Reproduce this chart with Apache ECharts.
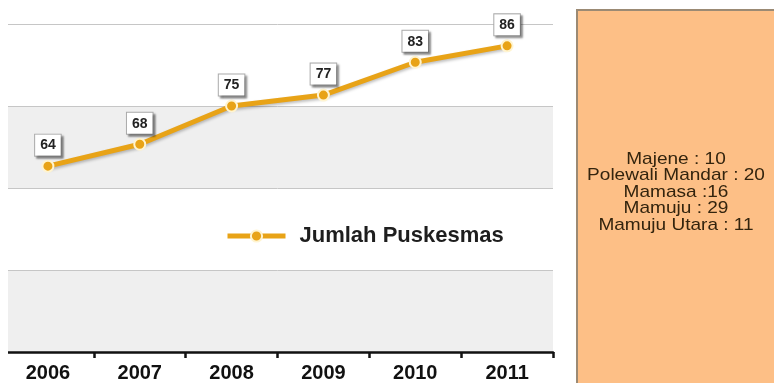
<!DOCTYPE html>
<html>
<head>
<meta charset="utf-8">
<script src="https://cdn.jsdelivr.net/npm/echarts@6/dist/echarts.min.js"></script>
<style>
  html, body { margin: 0; padding: 0; background: #fff; }
  #chart { width: 774px; height: 383px; }
</style>
</head>
<body>
<div id="chart"></div>
<script>
  // data
  var years = ['2006', '2007', '2008', '2009', '2010', '2011'];
  var puskesmas = [64, 68, 75, 77, 83, 86];
  var seriesName = 'Jumlah Puskesmas';
  // side note, per kabupaten
  var noteLines = ['Majene : 10', 'Polewali Mandar : 20', 'Mamasa :16', 'Mamuju : 29', 'Mamuju Utara : 11'];

  var chart = echarts.init(document.getElementById('chart'));
  var orange = '#E8A317';
  var font = 'Liberation Sans, Arial, sans-serif';

  var option = {
    animation: false,
    grid: { left: 2, right: 221, top: 24, bottom: 31 },
    legend: {
      data: [seriesName],
      left: 225,
      top: 225,
      padding: 0,
      itemWidth: 58,
      itemHeight: 14,
      lineStyle: { width: 5 },
      textStyle: { fontSize: 22, fontWeight: 'bold', color: '#1e1e1e', fontFamily: font, padding: [0, 0, 0, 9] }
    },
    xAxis: {
      type: 'category',
      data: years,
      boundaryGap: true,
      axisLine: { lineStyle: { color: '#111', width: 2.5 } },
      axisTick: { show: true, length: 6, lineStyle: { color: '#111', width: 2.5 } },
      axisLabel: { color: '#111', fontSize: 20, fontWeight: 'bold', margin: 11, fontFamily: font }
    },
    yAxis: {
      type: 'value',
      min: 30,
      max: 90,
      interval: 15,
      axisLine: { show: false },
      axisTick: { show: false },
      axisLabel: { show: false },
      splitLine: { show: true, lineStyle: { color: '#c6c6c6', width: 1 } },
      splitArea: { show: true, areaStyle: { color: ['#efefef', '#ffffff'] } }
    },
    series: [{
      name: seriesName,
      type: 'line',
      data: puskesmas,
      symbol: 'circle',
      symbolSize: 11,
      z: 5,
      lineStyle: { color: orange, width: 5, shadowColor: 'rgba(0,0,0,0.25)', shadowBlur: 3, shadowOffsetY: 2 },
      itemStyle: { color: orange, borderColor: '#fff4d0', borderWidth: 2 },
      label: {
        show: true,
        position: 'top',
        distance: 4,
        color: '#222',
        fontSize: 14,
        fontWeight: 'bold',
        fontFamily: font,
        backgroundColor: '#fff',
        borderColor: '#aaa',
        borderWidth: 1,
        padding: [4, 5, 3, 5],
        shadowColor: 'rgba(0,0,0,0.35)',
        shadowBlur: 2,
        shadowOffsetX: 2,
        shadowOffsetY: 2
      }
    }],
    graphic: [
      {
        // left margin: grid lines and axis begin a few px in
        type: 'rect',
        z: 2,
        shape: { x: 0, y: 0, width: 8, height: 383 },
        style: { fill: '#fff' }
      },
      {
        type: 'rect',
        shape: { x: 577, y: 10, width: 200, height: 380 },
        style: { fill: '#FDBF86', stroke: '#9b8a74', lineWidth: 2 }
      },
      {
        type: 'text',
        x: 676,
        y: 151,
        scaleX: 1.12,
        style: {
          text: noteLines.join('\n'),
          textAlign: 'center',
          fill: '#33240e',
          fontSize: 17,
          lineHeight: 16.5,
          fontFamily: font
        }
      }
    ]
  };

  chart.setOption(option);
</script>
</body>
</html>
